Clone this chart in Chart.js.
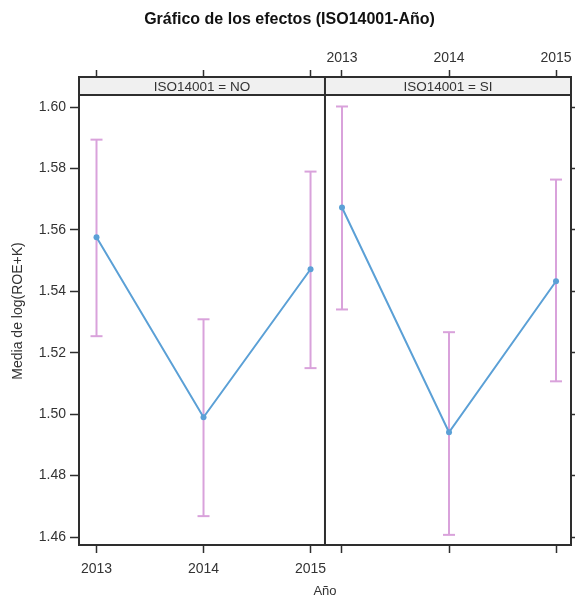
<!DOCTYPE html>
<html>
<head>
<meta charset="utf-8">
<script src="https://cdn.jsdelivr.net/npm/chart.js@4"></script>
<style>
  html, body { margin: 0; background: #fff; overflow: hidden; }
  #wrap { width: 579px; height: 599px; position: relative; }
</style>
</head>
<body>
<div id="wrap"><canvas id="grafico"></canvas></div>
<script>
// Datos del gráfico de efectos (media de log(ROE+K) por año y ISO14001)
const anios = ['2013', '2014', '2015'];
const paneles = ['ISO14001 = NO', 'ISO14001 = SI'];

const mediaNO = [1.5576, 1.4990, 1.5472];
const inferiorNO = [1.5254, 1.4668, 1.5150];
const superiorNO = [1.5894, 1.5309, 1.5790];

const mediaSI = [1.5673, 1.4941, 1.5433];
const inferiorSI = [1.5341, 1.4607, 1.5107];
const superiorSI = [1.6002, 1.5267, 1.5764];

const ticksY = [1.46, 1.48, 1.50, 1.52, 1.54, 1.56, 1.58, 1.60];

// Desplazamiento del segundo panel en unidades del eje x
const desplazamiento = [0, 2.294];
const divisor = 2.135;

const AZUL = '#5ba0d6';
const ROSA = '#d9a2db';
const BORDE = '#2e2e2e';
const TEXTO = '#333333';
const FUENTE = "'Liberation Sans', Arial, sans-serif";

// Posiciones x de cada año en cada panel
const posiciones = [];
desplazamiento.forEach(d => anios.forEach((a, i) => posiciones.push(i + d)));

// Construimos los datasets: primero las líneas de medias (quedan encima)
const medias = [mediaNO, mediaSI];
const inferiores = [inferiorNO, inferiorSI];
const superiores = [superiorNO, superiorSI];

const datasets = [];
medias.forEach((serie, p) => {
    datasets.push({
        data: serie.map((v, i) => ({ x: i + desplazamiento[p], y: v })),
        borderColor: AZUL,
        backgroundColor: AZUL,
        borderWidth: 2,
        pointRadius: 3,
        pointBorderWidth: 0,
        pointBackgroundColor: AZUL
    });
});
inferiores.forEach((serie, p) => {
    serie.forEach((lo, i) => {
        datasets.push({
            data: [
                { x: i + desplazamiento[p], y: lo },
                { x: i + desplazamiento[p], y: superiores[p][i] }
            ],
            borderColor: ROSA,
            borderWidth: 2,
            pointStyle: 'line',
            pointRadius: 6,
            pointBorderWidth: 2,
            pointBorderColor: ROSA
        });
    });
});

// Plugin: tiras de los paneles y línea divisoria
const tiras = {
    id: 'tiras',
    beforeDatasetsDraw(chart) {
        const { ctx, chartArea, scales } = chart;
        const alto = 18;
        const xDiv = scales.x.getPixelForValue(divisor);
        ctx.save();
        ctx.fillStyle = '#f0f0f0';
        ctx.fillRect(chartArea.left, chartArea.top, chartArea.right - chartArea.left, alto);
        ctx.strokeStyle = BORDE;
        ctx.lineWidth = 2;
        ctx.beginPath();
        ctx.moveTo(chartArea.left, chartArea.top + alto);
        ctx.lineTo(chartArea.right, chartArea.top + alto);
        ctx.stroke();
        ctx.fillStyle = TEXTO;
        ctx.font = '13.5px ' + FUENTE;
        ctx.textAlign = 'center';
        ctx.textBaseline = 'middle';
        ctx.fillText(paneles[0], (chartArea.left + xDiv) / 2, chartArea.top + alto / 2 + 1);
        ctx.fillText(paneles[1], (xDiv + chartArea.right) / 2, chartArea.top + alto / 2 + 1);
        ctx.restore();
    },
    afterDraw(chart) {
        const { ctx, chartArea, scales } = chart;
        const xDiv = scales.x.getPixelForValue(divisor);
        ctx.save();
        ctx.strokeStyle = BORDE;
        ctx.lineWidth = 2;
        ctx.beginPath();
        ctx.moveTo(xDiv, chartArea.top);
        ctx.lineTo(xDiv, chartArea.bottom);
        ctx.stroke();
        ctx.restore();
    }
};

const fuenteTicks = { family: FUENTE, size: 14 };

new Chart(document.getElementById('grafico'), {
    type: 'line',
    data: { datasets: datasets },
    plugins: [tiras],
    options: {
        responsive: true,
        maintainAspectRatio: false,
        animation: false,
        layout: { padding: 0 },
        plugins: {
            legend: { display: false },
            tooltip: { enabled: false },
            title: {
                display: true,
                text: 'Gráfico de los efectos (ISO14001-Año)',
                color: '#111',
                font: { family: FUENTE, size: 16, weight: 'bold' },
                padding: { top: 10.4, bottom: 0 }
            }
        },
        scales: {
            x: {
                type: 'linear',
                position: 'bottom',
                min: -0.1636,
                max: 4.434,
                afterBuildTicks: s => { s.ticks = posiciones.map(v => ({ value: v })); },
                afterFit: s => { s.height = 54; s.paddingLeft = 0; s.paddingRight = 0; },
                grid: { drawOnChartArea: false, tickLength: 8, tickWidth: 1.5, color: BORDE },
                border: { color: BORDE, width: 2, z: 1 },
                ticks: {
                    color: TEXTO, font: fuenteTicks, padding: 7.5, maxRotation: 0, autoSkip: false,
                    callback: (v, i) => i < 3 ? anios[i] : ''
                },
                title: {
                    display: true, text: 'Año', color: TEXTO,
                    font: { family: FUENTE, size: 13 }, padding: { top: 0, bottom: 0 }
                }
            },
            x2: {
                type: 'linear',
                position: 'top',
                min: -0.1636,
                max: 4.434,
                afterBuildTicks: s => { s.ticks = posiciones.map(v => ({ value: v })); },
                afterFit: s => { s.height = 47.4; s.paddingLeft = 0; s.paddingRight = 0; },
                grid: { drawOnChartArea: false, tickLength: 7, tickWidth: 1.5, color: BORDE },
                border: { color: BORDE, width: 2, z: 1 },
                ticks: {
                    color: TEXTO, font: fuenteTicks, padding: 3, maxRotation: 0, autoSkip: false,
                    callback: (v, i) => i >= 3 ? anios[i - 3] : ''
                }
            },
            y: {
                position: 'left',
                min: 1.4574,
                max: 1.6098,
                afterBuildTicks: s => { s.ticks = ticksY.map(v => ({ value: v })); },
                afterFit: s => { s.width = 79; s.paddingTop = 0; s.paddingBottom = 0; },
                grid: { drawOnChartArea: false, tickLength: 9, tickWidth: 1.5, color: BORDE },
                border: { color: BORDE, width: 2, z: 1 },
                ticks: {
                    color: TEXTO, font: fuenteTicks, padding: 4,
                    callback: v => v.toFixed(2)
                },
                title: {
                    display: true, text: 'Media de log(ROE+K)', color: TEXTO,
                    font: { family: FUENTE, size: 14 }, padding: { top: 9.6, bottom: 0 }
                }
            },
            y2: {
                position: 'right',
                min: 1.4574,
                max: 1.6098,
                afterBuildTicks: s => { s.ticks = ticksY.map(v => ({ value: v })); },
                afterFit: s => { s.width = 4; s.paddingTop = 0; s.paddingBottom = 0; },
                grid: { drawOnChartArea: false, tickLength: 4, tickWidth: 1.5, color: BORDE },
                border: { color: BORDE, width: 2, z: 1 },
                ticks: { color: 'rgba(0,0,0,0)', padding: 0, callback: () => '' }
            }
        }
    }
});
</script>
</body>
</html>
